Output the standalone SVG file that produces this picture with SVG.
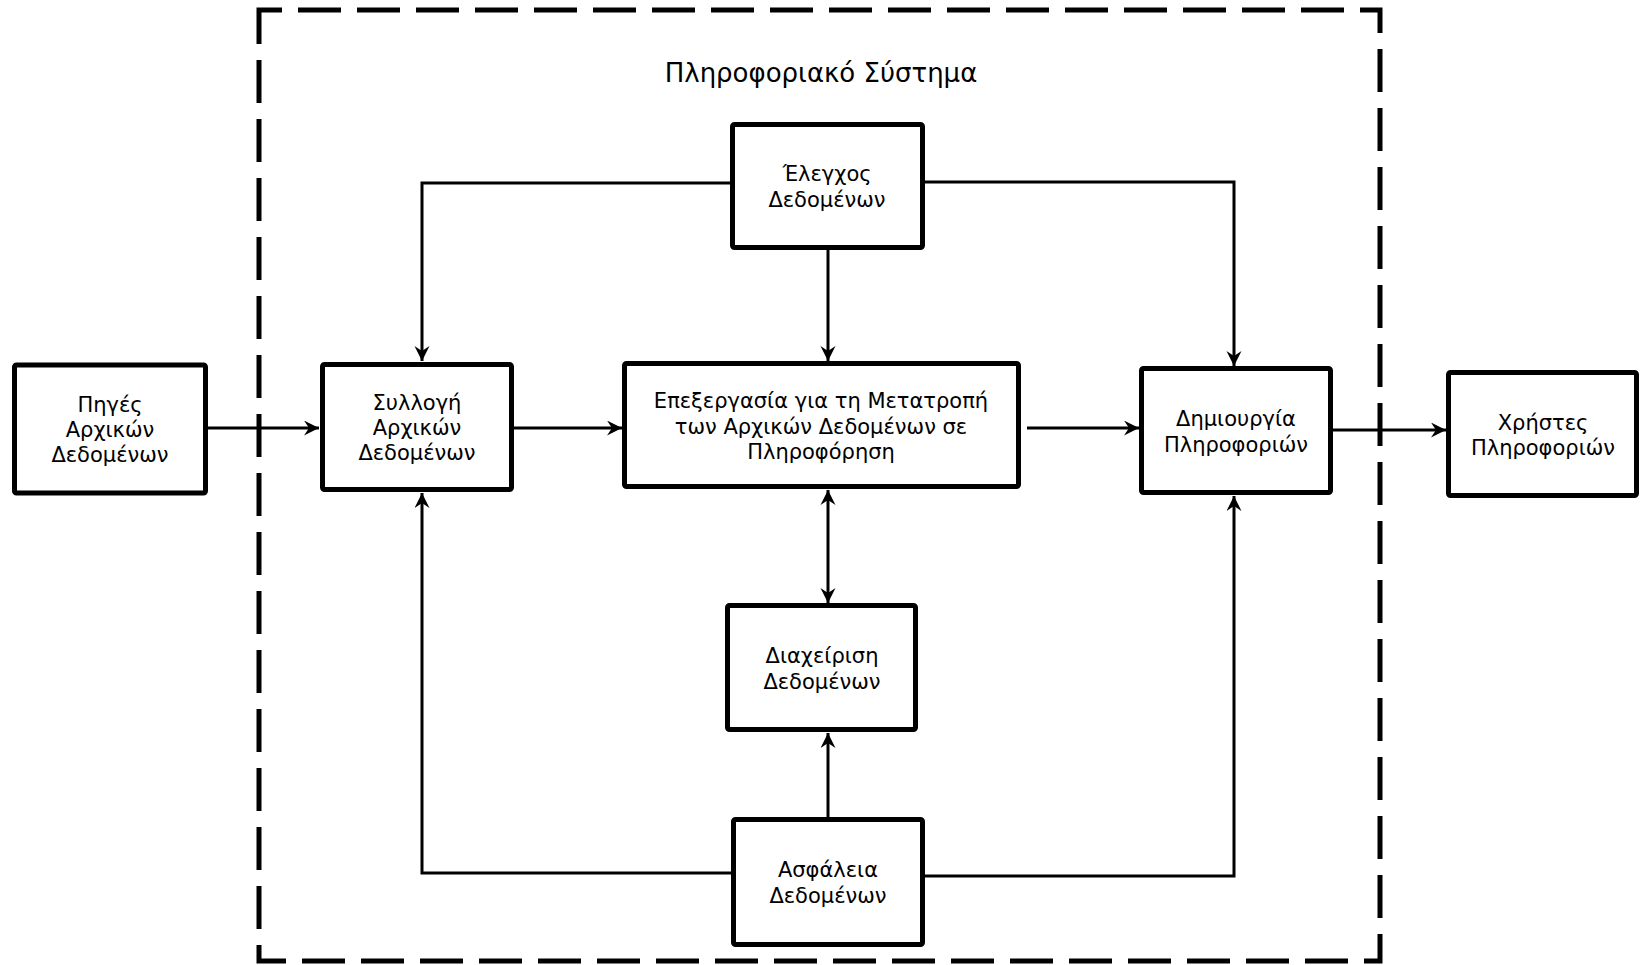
<svg xmlns="http://www.w3.org/2000/svg" width="1644" height="965" viewBox="0 0 1644 965">
  <style>
    .box { fill: #ffffff; stroke: #000000; stroke-width: 5; }
    .lbl { font-family: "DejaVu Sans", Verdana, sans-serif; font-size: 21px; fill: #000000; text-anchor: middle; }
    .title { font-family: "DejaVu Sans", Verdana, sans-serif; font-size: 26px; fill: #000000; text-anchor: middle; }
    .edge { fill: none; stroke: #000000; stroke-width: 3; }
    .frame { fill: none; stroke: #000000; stroke-width: 5; stroke-dasharray: 43 16; }
  </style>
  <defs>
    <marker id="arrow" markerUnits="userSpaceOnUse" markerWidth="16" markerHeight="16" refX="15" refY="7.5" orient="auto">
      <path d="M0,0 L15,7.5 L0,15 L5,7.5 z" fill="#000000"/>
    </marker>
    <marker id="arrowStart" markerUnits="userSpaceOnUse" markerWidth="16" markerHeight="16" refX="0" refY="7.5" orient="auto">
      <path d="M15,0 L0,7.5 L15,15 L10,7.5 z" fill="#000000"/>
    </marker>
  </defs>

  <rect width="1644" height="965" fill="#ffffff"/>

  <!-- system boundary -->
  <g id="system-boundary">
    <rect class="frame" x="259" y="10" width="1121" height="951" stroke-dashoffset="20"/>
    <text class="title" x="821" y="82">Πληροφοριακό Σύστημα</text>
  </g>

  <!-- connectors -->
  <g id="connectors">
    <line class="edge" x1="206" y1="428" x2="319" y2="428" marker-end="url(#arrow)"/>
    <line class="edge" x1="514" y1="428" x2="622" y2="428" marker-end="url(#arrow)"/>
    <line class="edge" x1="1027" y1="428" x2="1139" y2="428" marker-end="url(#arrow)"/>
    <line class="edge" x1="1333" y1="430" x2="1446" y2="430" marker-end="url(#arrow)"/>
    <polyline class="edge" points="730,183 422,183 422,361" marker-end="url(#arrow)"/>
    <polyline class="edge" points="925,182 1234,182 1234,366" marker-end="url(#arrow)"/>
    <line class="edge" x1="828" y1="250" x2="828" y2="361" marker-end="url(#arrow)"/>
    <line class="edge" x1="828" y1="490" x2="828" y2="603" marker-start="url(#arrowStart)" marker-end="url(#arrow)"/>
    <line class="edge" x1="828" y1="817" x2="828" y2="733" marker-end="url(#arrow)"/>
    <polyline class="edge" points="731,873 422,873 422,493" marker-end="url(#arrow)"/>
    <polyline class="edge" points="925,876 1234,876 1234,496" marker-end="url(#arrow)"/>
  </g>

  <!-- nodes -->
  <g id="node-sources">
    <rect class="box" x="14.5" y="365" width="191" height="128" rx="2"/>
    <text class="lbl" x="110" y="412">Πηγές</text>
    <text class="lbl" x="110" y="437">Αρχικών</text>
    <text class="lbl" x="110" y="462">Δεδομένων</text>
  </g>

  <g id="node-collection">
    <rect class="box" x="322.5" y="364.5" width="189" height="125" rx="2"/>
    <text class="lbl" x="417" y="410">Συλλογή</text>
    <text class="lbl" x="417" y="435">Αρχικών</text>
    <text class="lbl" x="417" y="460">Δεδομένων</text>
  </g>

  <g id="node-control">
    <rect class="box" x="732.5" y="124.5" width="190" height="123" rx="2"/>
    <text class="lbl" x="827" y="181">Έλεγχος</text>
    <text class="lbl" x="827" y="207">Δεδομένων</text>
  </g>

  <g id="node-processing">
    <rect class="box" x="624.5" y="363.5" width="394" height="123" rx="2"/>
    <text class="lbl" x="821" y="408">Επεξεργασία για τη Μετατροπή</text>
    <text class="lbl" x="821" y="434">των Αρχικών Δεδομένων σε</text>
    <text class="lbl" x="821" y="459">Πληροφόρηση</text>
  </g>

  <g id="node-creation">
    <rect class="box" x="1141.5" y="368.5" width="189" height="124" rx="2"/>
    <text class="lbl" x="1236" y="426">Δημιουργία</text>
    <text class="lbl" x="1236" y="452">Πληροφοριών</text>
  </g>

  <g id="node-users">
    <rect class="box" x="1448.5" y="372.5" width="188" height="123" rx="2"/>
    <text class="lbl" x="1543" y="430">Χρήστες</text>
    <text class="lbl" x="1543" y="455">Πληροφοριών</text>
  </g>

  <g id="node-management">
    <rect class="box" x="727.5" y="605.5" width="188" height="124" rx="2"/>
    <text class="lbl" x="822" y="663">Διαχείριση</text>
    <text class="lbl" x="822" y="689">Δεδομένων</text>
  </g>

  <g id="node-security">
    <rect class="box" x="733.5" y="819.5" width="189" height="125" rx="2"/>
    <text class="lbl" x="828" y="877">Ασφάλεια</text>
    <text class="lbl" x="828" y="903">Δεδομένων</text>
  </g>
</svg>
